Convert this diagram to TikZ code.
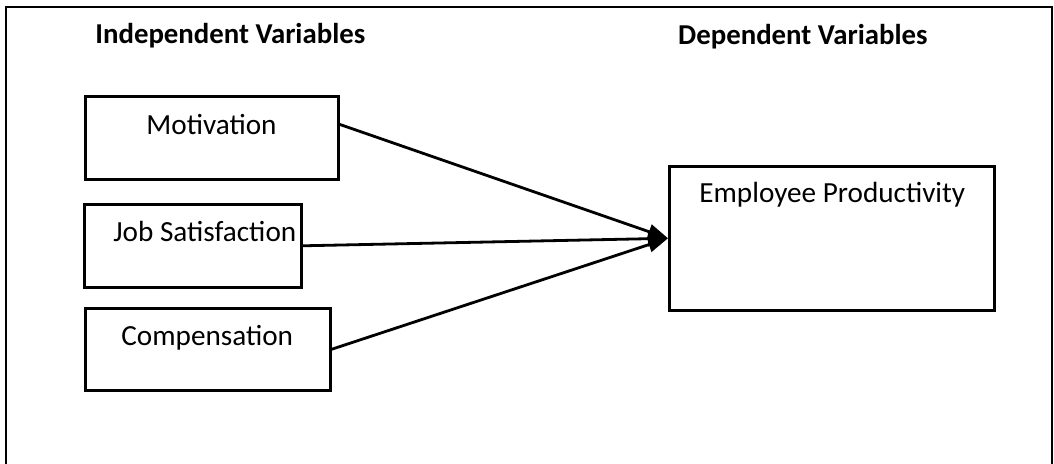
\documentclass[tikz,border=0pt]{standalone}
\usepackage{fontspec}
\setmainfont{Carlito}
\usetikzlibrary{arrows.meta}

\tikzset{
    varbox/.style={draw, line width=1.3pt, inner sep=0pt, anchor=north west},
    boxtext/.style={anchor=base west, inner sep=0pt, font=\fontsize{14.6}{17}\selectfont},
    headtext/.style={inner sep=0pt, font=\fontsize{14.4}{17}\selectfont\bfseries},
    link/.style={line width=1.4pt, -{Triangle[length=10pt,width=7.5pt]}}
}

\begin{document}
\begin{tikzpicture}[x=0.5pt, y=-0.5pt]
    \useasboundingbox (0,0) rectangle (1054,464);
    \draw[line width=1.3pt] (6,464) -- (6,7) -- (1052,7) -- (1052,464);

    % headings
    \node[headtext, anchor=base west] at (95,44)  (indep) {Independent Variables};
    \node[headtext, anchor=base east] at (928,45) (dep)   {Dependent Variables};

    % boxes
    \node[varbox, minimum width=126.5pt, minimum height=41.5pt] at (84,95)   (mot)  {};
    \node[varbox, minimum width=108.5pt, minimum height=41.5pt] at (83,203)  (job)  {};
    \node[varbox, minimum width=122.5pt, minimum height=41pt]   at (84,307)  (comp) {};
    \node[varbox, minimum width=162.5pt, minimum height=72pt]   at (668,165) (prod) {};

    \node[boxtext] at (146,135) (motT)  {Motivation};
    \node[boxtext] at (113,242) (jobT)  {Job Satisfaction};
    \node[boxtext] at (121,346) (compT) {Compensation};
    \node[boxtext] at (699,203) (prodT) {Employee Productivity};

    \draw[link] (mot.6.5) -- (prod.west);
    \draw[link] (job.east) -- (prod.west);
    \draw[link] (comp.east) -- (prod.west);
\end{tikzpicture}
\end{document}
